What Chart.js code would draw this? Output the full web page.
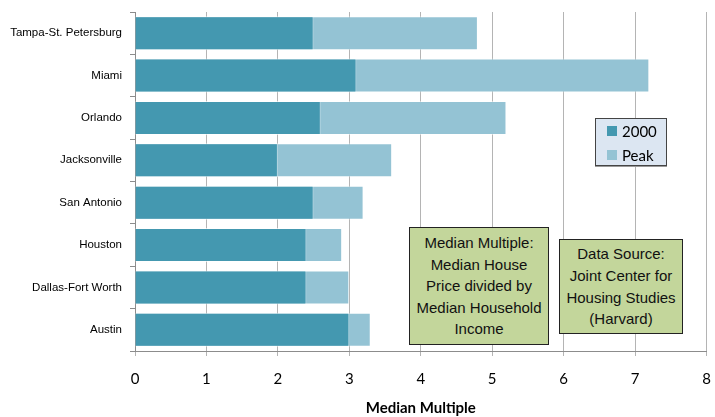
<!DOCTYPE html>
<html>
<head>
<meta charset="utf-8">
<script src="https://cdn.jsdelivr.net/npm/chart.js@4/dist/chart.umd.min.js"></script>
<style>
  html, body { margin: 0; padding: 0; background: #fff; }
  #wrap { position: relative; width: 715px; height: 417px; }
  .note {
    position: absolute; box-sizing: border-box;
    background: #c3d69b; border: 1px solid #222;
    display: flex; align-items: center; justify-content: center; text-align: center;
    font-family: "Liberation Sans Narrow", "Arial Narrow", "Liberation Sans", Arial, sans-serif;
    font-size: 15px; line-height: 21.6px; color: #111;
  }
  #legend {
    position: absolute; left: 595px; top: 118px; width: 72px; height: 48px; box-sizing: border-box;
    background: #dce6f2; border: 1px solid #444; box-shadow: 0 1px 0 #999;
    font-family: Lato, "Open Sans", sans-serif; font-size: 15px; color: #000;
  }
  #legend .row { position: absolute; left: 11px; height: 18px; display: flex; align-items: center; }
  #legend .sw { width: 10px; height: 10px; margin-right: 5px; }
</style>
</head>
<body>
<div id="wrap">
  <canvas id="chart" width="715" height="417"></canvas>
  <div id="legend"></div>
  <div class="note" style="left:409px; top:227px; width:140px; height:118px;">Median Multiple:<br>Median House<br>Price divided by<br>Median Household<br>Income</div>
  <div class="note" style="left:559px; top:239px; width:124px; height:95px;">Data Source:<br>Joint Center for<br>Housing Studies<br>(Harvard)</div>
</div>
<script>
// median multiple by metro, 2000 vs. peak year
var metros = ["Tampa-St. Petersburg", "Miami", "Orlando", "Jacksonville", "San Antonio", "Houston", "Dallas-Fort Worth", "Austin"];
var year2000 = [2.5, 3.1, 2.6, 2.0, 2.5, 2.4, 2.4, 3.0];
var peak = [4.8, 7.2, 5.2, 3.6, 3.2, 2.9, 3.0, 3.3];
var xTicks = [0, 1, 2, 3, 4, 5, 6, 7, 8];

var COLOR_2000 = "#4498b0";
var COLOR_PEAK = "#94c3d4";
var GRID = "#b4b4b4";

// legend box (html so it can sit inside the plot)
var legendEl = document.getElementById("legend");
[["2000", COLOR_2000], ["Peak", COLOR_PEAK]].forEach(function (item, i) {
  var row = document.createElement("div");
  row.className = "row";
  row.style.top = (3 + i * 24) + "px";
  row.innerHTML = '<span class="sw" style="background:' + item[1] + '"></span><span>' + item[0] + "</span>";
  legendEl.appendChild(row);
});

new Chart(document.getElementById("chart"), {
  type: "bar",
  data: {
    labels: metros,
    datasets: [
      // first dataset is drawn on top, so 2000 overlays peak
      { label: "2000", data: year2000, backgroundColor: COLOR_2000, borderColor: "rgba(255,255,255,0.35)", borderWidth: 1, borderSkipped: "left" },
      { label: "Peak", data: peak, backgroundColor: COLOR_PEAK, borderColor: "rgba(255,255,255,0.45)", borderWidth: 1, borderSkipped: "left" }
    ]
  },
  options: {
    indexAxis: "y",
    responsive: false,
    animation: false,
    datasets: { bar: { categoryPercentage: 1, barPercentage: 0.8 } },
    layout: { padding: { top: 12, right: 8.5, bottom: 0, left: 0 } },
    plugins: { legend: { display: false }, tooltip: { enabled: false } },
    scales: {
      x: {
        min: 0, max: 8,
        afterBuildTicks: function (scale) {
          scale.ticks = xTicks.map(function (v) { return { value: v }; });
        },
        // fixed axis box; drop the label overhang so the layout padding rules
        afterFit: function (scale) {
          scale.height = 66;
          scale.paddingLeft = 0;
          scale.paddingRight = 0;
        },
        grid: { color: GRID, lineWidth: 1, tickLength: 5 },
        border: { color: "#8c8c8c" },
        ticks: { color: "#000", padding: 14, font: { family: "Lato, 'Open Sans', sans-serif", size: 15 } },
        title: {
          display: true, text: "Median Multiple", color: "#000",
          font: { family: "Lato, 'Open Sans', sans-serif", size: 15, weight: "bold" },
          padding: { top: 0, bottom: 0 }
        }
      },
      y: {
        stacked: true,
        afterFit: function (scale) {
          scale.width = 135;
          scale.paddingTop = 0;
          scale.paddingBottom = 0;
        },
        grid: { drawOnChartArea: false, offset: true, tickLength: 5, color: "#8c8c8c" },
        border: { color: "#8c8c8c" },
        ticks: {
          color: "#000", padding: 8,
          font: { family: "'Liberation Sans Narrow', 'Arial Narrow', 'Liberation Sans', Arial, sans-serif", size: 11.5 }
        }
      }
    }
  }
});
</script>
</body>
</html>
